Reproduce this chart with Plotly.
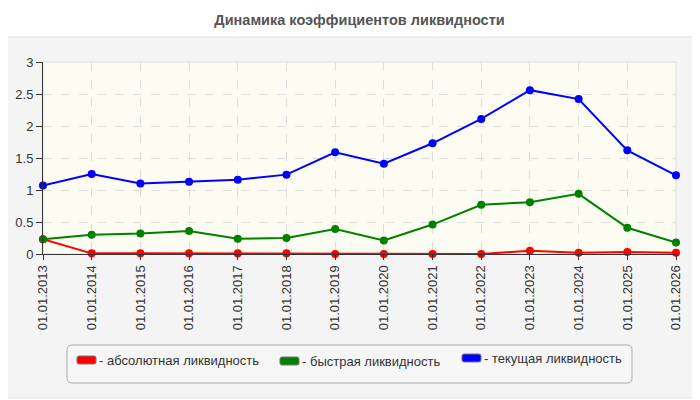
import plotly.graph_objects as go

dates = ["01.01.2013", "01.01.2014", "01.01.2015", "01.01.2016", "01.01.2017",
         "01.01.2018", "01.01.2019", "01.01.2020", "01.01.2021", "01.01.2022",
         "01.01.2023", "01.01.2024", "01.01.2025", "01.01.2026"]

absolute = [0.23, 0.01, 0.01, 0.01, 0.01, 0.01, 0.0, 0.0, 0.0, 0.0, 0.05, 0.02, 0.03, 0.02]
quick = [0.23, 0.30, 0.32, 0.36, 0.24, 0.25, 0.39, 0.21, 0.46, 0.77, 0.81, 0.94, 0.41, 0.18]
current = [1.07, 1.25, 1.10, 1.13, 1.16, 1.24, 1.59, 1.41, 1.73, 2.11, 2.56, 2.42, 1.62, 1.23]

series = [("- абсолютная ликвидность", absolute, "#ff0000"),
          ("- быстрая ликвидность", quick, "#008000"),
          ("- текущая ликвидность", current, "#0000ff")]

# page body has an 8px margin, so the figure is laid out 8px up/left
OFF = 8
W, H = 700 - OFF, 400 - OFF
L, R, T, B = 43 - OFF, 676 - OFF, 62 - OFF, 254 - OFF


def px(x):
    return (x - OFF - L) / (R - L)


def py(y):
    return (B - (y - OFF)) / (B - T)


def rounded(x0, y0, x1, y1, r):
    # rounded rect path in paper coords, built from page pixel values
    pts = [
        f"M{px(x0 + r)},{py(y0)}",
        f"L{px(x1 - r)},{py(y0)}",
        f"Q{px(x1)},{py(y0)} {px(x1)},{py(y0 + r)}",
        f"L{px(x1)},{py(y1 - r)}",
        f"Q{px(x1)},{py(y1)} {px(x1 - r)},{py(y1)}",
        f"L{px(x0 + r)},{py(y1)}",
        f"Q{px(x0)},{py(y1)} {px(x0)},{py(y1 - r)}",
        f"L{px(x0)},{py(y0 + r)}",
        f"Q{px(x0)},{py(y0)} {px(x0 + r)},{py(y0)}",
        "Z",
    ]
    return " ".join(pts)


fig = go.Figure()

for name, vals, color in series:
    fig.add_trace(go.Scatter(
        x=dates, y=vals, name=name, mode="lines+markers",
        line=dict(color=color, width=2),
        marker=dict(color=color, size=8),
        cliponaxis=False, showlegend=False,
    ))

shapes = [
    dict(type="path", xref="paper", yref="paper", path=rounded(2, 37, 698, 398, 6),
         fillcolor="#f4f4f4", line=dict(color="#e2e2e2", width=1), layer="below"),
    dict(type="rect", xref="paper", yref="paper", x0=0, y0=0, x1=1, y1=1,
         fillcolor="#fcfcf3", line=dict(color="#dddddd", width=1), layer="below"),
    dict(type="path", xref="paper", yref="paper", path=rounded(67, 345, 632, 383, 5),
         fillcolor="#f6f6f6", line=dict(color="#aaaaaa", width=1), layer="below"),
]

annotations = []
legend_pos = [(77, 360), (280, 361), (462, 358)]
for (name, vals, color), (lx, ly) in zip(series, legend_pos):
    shapes.append(dict(type="path", xref="paper", yref="paper",
                       path=rounded(lx, ly - 4, lx + 19, ly + 4, 2),
                       fillcolor=color, line=dict(color="#777777", width=1)))
    annotations.append(dict(x=px(lx + 20), y=py(ly), xref="paper", yref="paper",
                            text=name, showarrow=False, xanchor="left", yanchor="middle",
                            font=dict(size=13, color="#333333")))

fig.update_layout(
    width=W, height=H,
    margin=dict(l=L, r=W - R, t=T, b=H - B, autoexpand=False),
    paper_bgcolor="white",
    plot_bgcolor="rgba(0,0,0,0)",
    font=dict(family="Liberation Sans, Arial, sans-serif", size=13, color="#333333"),
    title=dict(text="<b>Динамика коэффициентов ликвидности</b>", x=0.5, xref="paper",
               y=1 - (20 - OFF) / H, yanchor="middle",
               font=dict(size=14.5, color="#555555")),
    shapes=shapes,
    annotations=annotations,
    showlegend=False,
)

fig.update_xaxes(
    type="category", range=[0, len(dates) - 1], tickangle=-90, automargin=False,
    showgrid=True, gridcolor="#dddddd", griddash="dash",
    showline=True, linecolor="#333333", linewidth=1,
    ticks="outside", ticklen=5, tickcolor="#333333",
    tickfont=dict(size=13, color="#333333"),
)
fig.update_yaxes(
    range=[0, 3], dtick=0.5, tick0=0, automargin=False,
    showgrid=True, gridcolor="#dddddd", griddash="dash",
    zeroline=False,
    showline=True, linecolor="#333333", linewidth=1,
    ticks="outside", ticklen=6, tickcolor="#333333",
    tickfont=dict(size=13, color="#333333"),
)

fig.write_html("out.html")
